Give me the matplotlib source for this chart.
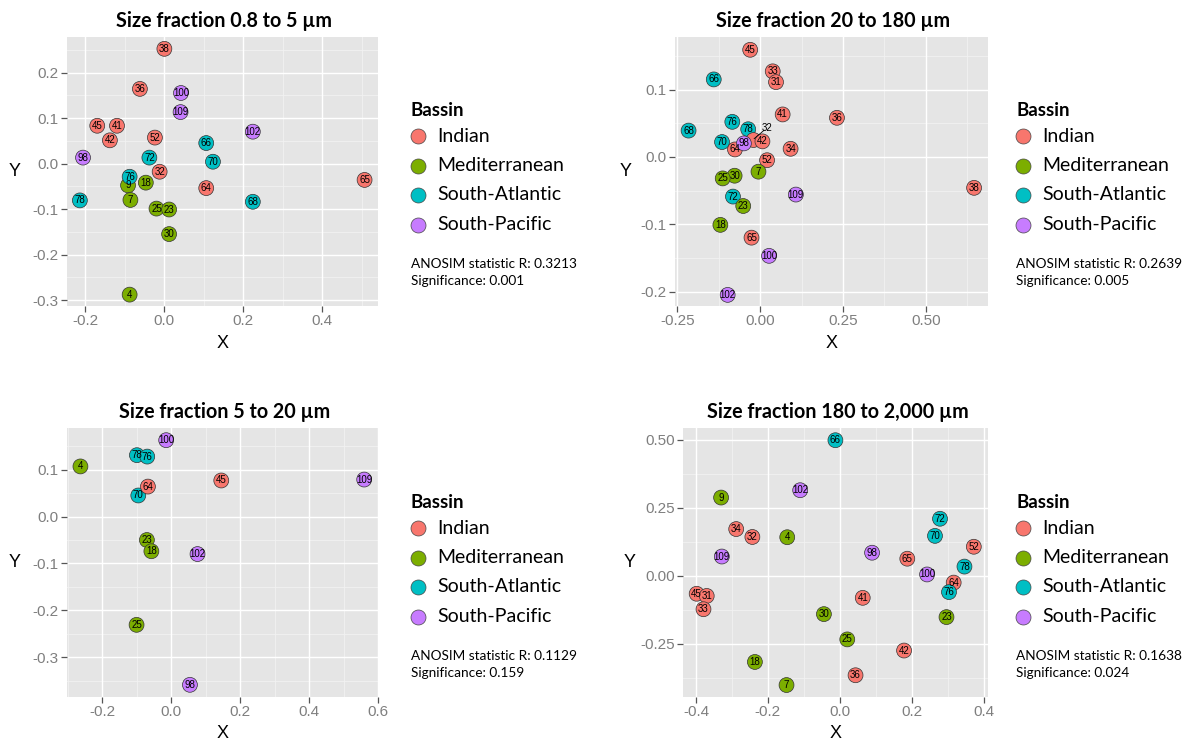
import matplotlib
matplotlib.use('Agg')
import matplotlib.pyplot as plt
from matplotlib.lines import Line2D
from matplotlib import font_manager

W, H, DPI = 1191, 742, 100

# ---------------- data ----------------
basin_names = ['Indian', 'Mediterranean', 'South-Atlantic', 'South-Pacific']
basin_colors = ['#F8766D', '#7CAE00', '#00BFC4', '#C77CFF']
indian_ids = [31, 32, 33, 34, 36, 38, 41, 42, 45, 52, 64, 65]
med_ids = [4, 7, 9, 18, 23, 25, 30]
satl_ids = [66, 68, 70, 72, 76, 78]
spac_ids = [98, 100, 102, 109]

titles = ['Size fraction 0.8 to 5 µm', 'Size fraction 20 to 180 µm',
          'Size fraction 5 to 20 µm', 'Size fraction 180 to 2,000 µm']
anosim_r = ['0.3213', '0.2639', '0.1129', '0.1638']
signif = ['0.001', '0.005', '0.159', '0.024']

p1_ids = [38, 36, 100, 109, 45, 41, 42, 52, 102, 66, 98, 72, 70, 32, 9, 76, 18, 65, 64, 78, 7, 68, 25, 23, 30, 4]
p1_x = [0.000, -0.062, 0.042, 0.041, -0.170, -0.120, -0.138, -0.024, 0.224, 0.106, -0.206, -0.038, 0.123,
        -0.012, -0.092, -0.088, -0.047, 0.507, 0.106, -0.214, -0.086, 0.224, -0.020, 0.012, 0.012, -0.088]
p1_y = [0.252, 0.164, 0.155, 0.113, 0.083, 0.083, 0.051, 0.057, 0.070, 0.045, 0.013, 0.013, 0.004,
        -0.018, -0.048, -0.029, -0.042, -0.036, -0.054, -0.081, -0.080, -0.084, -0.099, -0.101, -0.155, -0.288]

p2_ids = [45, 33, 31, 66, 41, 36, 76, 78, 68, 32, 70, 64, 98, 42, 34, 52, 7, 30, 25, 38, 109, 72, 23, 18, 65, 100, 102]
p2_x = [-0.030, 0.038, 0.048, -0.140, 0.068, 0.232, -0.084, -0.036, -0.216, -0.020, -0.115, -0.076, -0.049,
        0.007, 0.092, 0.021, -0.005, -0.077, -0.113, 0.646, 0.108, -0.082, -0.051, -0.120, -0.026, 0.027, -0.098]
p2_y = [0.159, 0.127, 0.111, 0.115, 0.063, 0.058, 0.052, 0.041, 0.039, 0.025, 0.022, 0.011, 0.020,
        0.023, 0.012, -0.005, -0.022, -0.028, -0.032, -0.046, -0.056, -0.059, -0.073, -0.101, -0.120, -0.147, -0.205]
p2_offset_label = {32: (0.020, 0.0435)}

p3_ids = [100, 78, 76, 4, 45, 109, 70, 64, 23, 18, 102, 25, 98]
p3_x = [-0.015, -0.100, -0.070, -0.264, 0.145, 0.560, -0.096, -0.068, -0.071, -0.058, 0.076, -0.101, 0.054]
p3_y = [0.163, 0.131, 0.128, 0.107, 0.077, 0.079, 0.045, 0.064, -0.050, -0.074, -0.080, -0.231, -0.359]

p4_ids = [66, 102, 9, 72, 34, 32, 4, 70, 52, 109, 98, 65, 78, 100, 64, 45, 31, 76, 41, 33, 30, 23, 25, 42, 18, 36, 7]
p4_x = [-0.012, -0.110, -0.330, 0.279, -0.288, -0.243, -0.146, 0.265, 0.373, -0.328, 0.090, 0.188, 0.347,
        0.243, 0.317, -0.398, -0.370, 0.304, 0.064, -0.379, -0.044, 0.297, 0.021, 0.179, -0.236, 0.044, -0.148]
p4_y = [0.499, 0.315, 0.288, 0.210, 0.172, 0.143, 0.142, 0.147, 0.107, 0.071, 0.085, 0.063, 0.034,
        0.005, -0.025, -0.066, -0.074, -0.060, -0.081, -0.123, -0.141, -0.152, -0.234, -0.275, -0.317, -0.366, -0.402]

p1_xticks = [-0.2, 0.0, 0.2, 0.4]
p1_xlabels = ['-0.2', '0.0', '0.2', '0.4']
p1_yticks = [-0.3, -0.2, -0.1, 0.0, 0.1, 0.2]
p1_ylabels = ['-0.3', '-0.2', '-0.1', '0.0', '0.1', '0.2']
p2_xticks = [-0.25, 0.0, 0.25, 0.5]
p2_xlabels = ['-0.25', '0.00', '0.25', '0.50']
p2_yticks = [-0.2, -0.1, 0.0, 0.1]
p2_ylabels = ['-0.2', '-0.1', '0.0', '0.1']
p3_xticks = [-0.2, 0.0, 0.2, 0.4, 0.6]
p3_xlabels = ['-0.2', '0.0', '0.2', '0.4', '0.6']
p3_yticks = [-0.3, -0.2, -0.1, 0.0, 0.1]
p3_ylabels = ['-0.3', '-0.2', '-0.1', '0.0', '0.1']
p4_xticks = [-0.4, -0.2, 0.0, 0.2, 0.4]
p4_xlabels = ['-0.4', '-0.2', '0.0', '0.2', '0.4']
p4_yticks = [-0.25, 0.0, 0.25, 0.5]
p4_ylabels = ['-0.25', '0.00', '0.25', '0.50']

# ---------------- layout ----------------
def basin_of(i):
    if i in indian_ids:
        return 0
    if i in med_ids:
        return 1
    if i in satl_ids:
        return 2
    return 3

def fx(px):
    return px / W

def fy(py):
    return 1 - py / H

panels = [
    dict(box=(67, 37, 378, 306), xlim=(-0.2466, 0.541), ylim=(-0.313, 0.278),
         ids=p1_ids, x=p1_x, y=p1_y, xt=p1_xticks, xl=p1_xlabels, yt=p1_yticks, yl=p1_ylabels,
         off={}, leg_x=411, leg_top=111, ylab_x=15),
    dict(box=(675, 37, 988, 306), xlim=(-0.257, 0.688), ylim=(-0.2215, 0.178),
         ids=p2_ids, x=p2_x, y=p2_y, xt=p2_xticks, xl=p2_xlabels, yt=p2_yticks, yl=p2_ylabels,
         off=p2_offset_label, leg_x=1016, leg_top=111, ylab_x=626),
    dict(box=(67, 428, 379, 697), xlim=(-0.303, 0.603), ylim=(-0.385, 0.189),
         ids=p3_ids, x=p3_x, y=p3_y, xt=p3_xticks, xl=p3_xlabels, yt=p3_yticks, yl=p3_ylabels,
         off={}, leg_x=411, leg_top=503, ylab_x=15),
    dict(box=(683, 428, 988, 697), xlim=(-0.436, 0.4125), ylim=(-0.446, 0.544),
         ids=p4_ids, x=p4_x, y=p4_y, xt=p4_xticks, xl=p4_xlabels, yt=p4_yticks, yl=p4_ylabels,
         off={}, leg_x=1016, leg_top=503, ylab_x=630),
]

SANS = 'Liberation Sans'
CAL = 'Lato'
TICKGREY = '#7F7F7F'
installed = {f.name for f in font_manager.fontManager.ttflist}
if 'Liberation Sans Narrow' in installed:
    NUMFONT, NUMSIZE = 'Liberation Sans Narrow', 7.6
else:
    NUMFONT, NUMSIZE = SANS, 7.0

fig = plt.figure(figsize=(W / DPI, H / DPI), dpi=DPI, facecolor='white')

for k, p in enumerate(panels):
    l, t, r, b = p['box']
    ax = fig.add_axes([fx(l), fy(b), fx(r - l), (b - t) / H])
    ax.set_facecolor('#E5E5E5')
    for s in ax.spines.values():
        s.set_visible(False)
    ax.set_xlim(*p['xlim'])
    ax.set_ylim(*p['ylim'])
    ax.set_xticks(p['xt'])
    ax.set_xticklabels(p['xl'], family=SANS, fontsize=11, color=TICKGREY)
    ax.set_yticks(p['yt'])
    ax.set_yticklabels(p['yl'], family=SANS, fontsize=11, color=TICKGREY)
    # minor gridlines halfway between majors
    xt, yt = p['xt'], p['yt']
    dx = xt[1] - xt[0]
    dy = yt[1] - yt[0]
    xm = [xt[0] - dx / 2] + [v + dx / 2 for v in xt]
    ym = [yt[0] - dy / 2] + [v + dy / 2 for v in yt]
    for v in xm:
        ax.axvline(v, color='#F2F2F2', lw=0.6, zorder=0.5)
    for v in ym:
        ax.axhline(v, color='#F2F2F2', lw=0.6, zorder=0.5)
    for v in xt:
        ax.axvline(v, color='white', lw=1.0, zorder=0.6)
    for v in yt:
        ax.axhline(v, color='white', lw=1.0, zorder=0.6)
    ax.tick_params(axis='both', length=4, width=0.9, color='#555555', pad=2)

    cols = [basin_colors[basin_of(i)] for i in p['ids']]
    ax.scatter(p['x'], p['y'], s=115, c=cols, edgecolors='#333333', linewidths=0.5, zorder=3)
    for i, xv, yv in zip(p['ids'], p['x'], p['y']):
        if i in p['off']:
            tx, ty = p['off'][i]
            ax.text(tx, ty, str(i), family=NUMFONT, fontsize=NUMSIZE, ha='center', va='center', zorder=5)
            ax.plot([tx - 0.008, xv + 0.002], [ty - 0.004, yv + 0.002], color='black', lw=0.6, zorder=5)
        else:
            ax.text(xv, yv, str(i), family=NUMFONT, fontsize=NUMSIZE, ha='center', va='center', zorder=5)

    # title
    fig.text(fx((l + r) / 2 + 2), fy(t - 16), titles[k], family=CAL, weight='bold', fontsize=14.2,
             ha='center', va='center')
    # axis labels
    fig.text(fx((l + r) / 2), fy(b + 37), 'X', family=SANS, fontsize=13, ha='center', va='center')
    fig.text(fx(p['ylab_x']), fy((t + b) / 2), 'Y', family=SANS, fontsize=13, ha='center', va='center')

    # legend
    lx, ltop = p['leg_x'], p['leg_top']
    fig.text(fx(lx), fy(ltop), 'Bassin', family=CAL, weight='bold', fontsize=13.5, ha='left', va='center')
    for j, (nm, col) in enumerate(zip(basin_names, basin_colors)):
        yy = ltop + 25 + 29.5 * j
        fig.add_artist(Line2D([fx(lx + 7)], [fy(yy)], marker='o', markersize=10.8, color=col,
                              markeredgecolor='#444444', markeredgewidth=0.5, transform=fig.transFigure))
        fig.text(fx(lx + 26), fy(yy), nm, family=CAL, fontsize=14, ha='left', va='center')
    fig.text(fx(lx), fy(ltop + 153), 'ANOSIM statistic R: ' + anosim_r[k], family=CAL, fontsize=9.8,
             ha='left', va='center')
    fig.text(fx(lx), fy(ltop + 170), 'Significance: ' + signif[k], family=CAL, fontsize=9.8,
             ha='left', va='center')

fig.savefig('out.png', dpi=DPI, facecolor='white')
